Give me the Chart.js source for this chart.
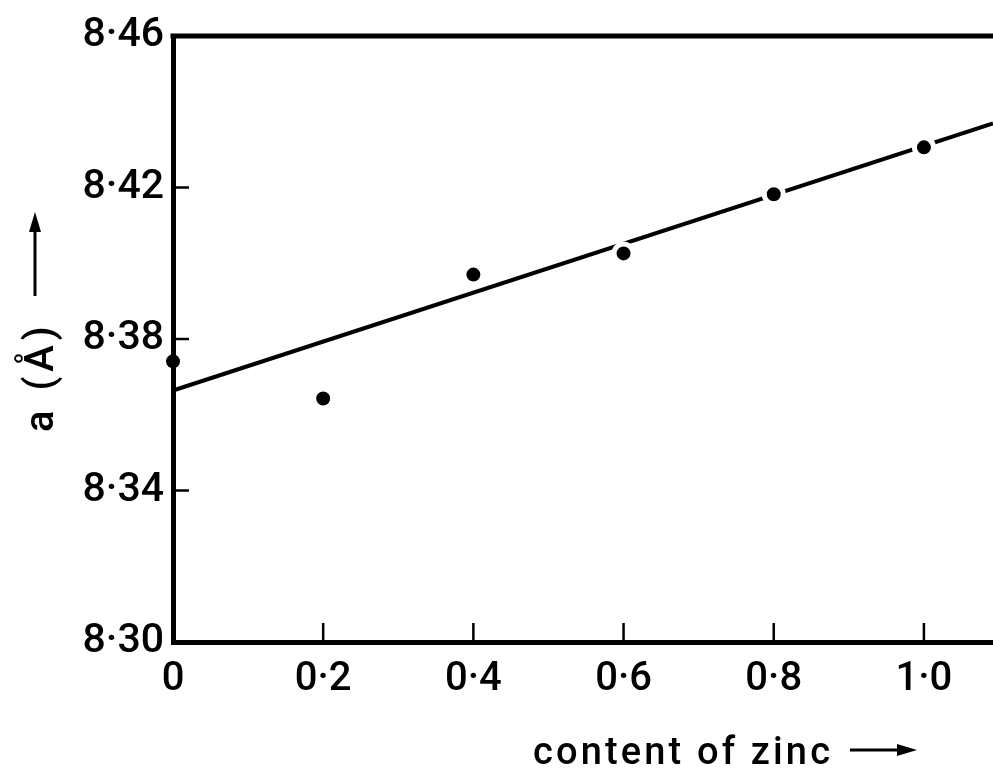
<!DOCTYPE html>
<html>
<head>
<meta charset="utf-8">
<script src="https://cdn.jsdelivr.net/npm/chart.js@4/dist/chart.umd.min.js"></script>
<style>
  html, body { margin: 0; padding: 0; background: #fff; }
  #wrap { width: 993px; height: 774px; }
</style>
</head>
<body>
<div id="wrap"><canvas id="zincChart" width="993" height="774"></canvas></div>
<script>
// measured points: lattice parameter a (Å) vs content of zinc
const zincContent = [0, 0.2, 0.4, 0.6, 0.8, 1.0];
const latticeParam = [8.3741, 8.3643, 8.3970, 8.4026, 8.4182, 8.4306];

// straight fit line (two ends)
const fitX = [0, 1.092];
const fitY = [8.3664, 8.4369];

// axis ticks
const xTicks = [0, 0.2, 0.4, 0.6, 0.8, 1.0];
const yTicks = [8.30, 8.34, 8.38, 8.42, 8.46];

const FONT = 'Roboto, "DejaVu Sans", sans-serif';

function fmtTick(v, digits) {
    if (v === 0) return '0';
    return v.toFixed(digits).replace('.', '·');
}

function drawArrow(ctx, x0, y0, x1, y1) {
    const ang = Math.atan2(y1 - y0, x1 - x0);
    const headLen = 20, headW = 6;
    ctx.beginPath();
    ctx.moveTo(x0, y0);
    ctx.lineTo(x1 - Math.cos(ang) * headLen * 0.8, y1 - Math.sin(ang) * headLen * 0.8);
    ctx.lineWidth = 3;
    ctx.stroke();
    ctx.beginPath();
    ctx.moveTo(x1, y1);
    ctx.lineTo(x1 - Math.cos(ang) * headLen - Math.sin(ang) * headW, y1 - Math.sin(ang) * headLen + Math.cos(ang) * headW);
    ctx.lineTo(x1 - Math.cos(ang) * headLen + Math.sin(ang) * headW, y1 - Math.sin(ang) * headLen - Math.cos(ang) * headW);
    ctx.closePath();
    ctx.fill();
}

// frame top line, inward tick marks and the two axis titles
const framePlugin = {
    id: 'framePlugin',
    afterDraw(chart) {
        const ctx = chart.ctx;
        const area = chart.chartArea;
        const xs = chart.scales.x, ys = chart.scales.y;
        ctx.save();
        ctx.strokeStyle = '#000';
        ctx.fillStyle = '#000';

        // top border
        ctx.lineWidth = 5;
        ctx.beginPath();
        ctx.moveTo(area.left - 2.5, area.top);
        ctx.lineTo(area.right, area.top);
        ctx.stroke();

        // y tick marks (pointing right)
        ctx.lineWidth = 2.5;
        yTicks.slice(1, -1).forEach(v => {
            const py = ys.getPixelForValue(v);
            ctx.beginPath();
            ctx.moveTo(area.left, py);
            ctx.lineTo(area.left + 16, py);
            ctx.stroke();
        });
        // x tick marks (pointing up)
        xTicks.slice(1).forEach(v => {
            const px = xs.getPixelForValue(v);
            ctx.beginPath();
            ctx.moveTo(px, area.bottom);
            ctx.lineTo(px, area.bottom - 19);
            ctx.stroke();
        });

        // x title
        ctx.font = '500 38px ' + FONT;
        ctx.textAlign = 'left';
        ctx.textBaseline = 'alphabetic';
        const xTitle = 'content of zinc';
        ctx.letterSpacing = '0px';
        const w0 = ctx.measureText(xTitle).width;
        ctx.letterSpacing = ((297 - w0) / (xTitle.length - 1)).toFixed(2) + 'px';
        ctx.fillText(xTitle, 533, 764);
        ctx.letterSpacing = '0px';
        drawArrow(ctx, 850, 750, 917, 750);

        // y title (rotated)
        ctx.save();
        ctx.translate(53, 432);
        ctx.rotate(-Math.PI / 2);
        ctx.font = '500 40px ' + FONT;
        ctx.letterSpacing = '5px';
        ctx.fillText('a (Å)', 0, 0);
        ctx.letterSpacing = '0px';
        drawArrow(ctx, 432 - 296, -18, 432 - 212, -18);
        ctx.restore();

        ctx.restore();
    }
};

const zincCanvas = document.getElementById('zincChart').getContext('2d');

new Chart(zincCanvas, {
    type: 'scatter',
    data: {
        datasets: [
            {
                label: 'measured',
                data: zincContent.map((x, i) => ({ x: x, y: latticeParam[i] })),
                backgroundColor: '#000',
                borderColor: '#fff',
                pointRadius: ctx => ctx.raw && ctx.raw.x === 0 ? 7 : 9.5,
                pointBorderWidth: ctx => ctx.raw && ctx.raw.x === 0 ? 0 : 5,
                pointHoverRadius: 9.5,
                clip: false
            },
            {
                label: 'fit',
                type: 'line',
                data: fitX.map((x, i) => ({ x: x, y: fitY[i] })),
                borderColor: '#000',
                borderWidth: 4,
                pointRadius: 0,
                fill: false,
                clip: false
            }
        ]
    },
    options: {
        responsive: false,
        animation: false,
        events: [],
        layout: {
            autoPadding: false,
            padding: { top: 36, right: 0, left: 0, bottom: 0 }
        },
        plugins: {
            legend: { display: false },
            tooltip: { enabled: false },
            title: { display: false }
        },
        scales: {
            x: {
                type: 'linear',
                min: fitX[0],
                max: fitX[1],
                afterBuildTicks: scale => { scale.ticks = xTicks.map(v => ({ value: v })); },
                afterFit: scale => {
                    scale.height = 132;
                    scale.paddingLeft = 0;
                    scale.paddingRight = 0;
                },
                grid: { display: false, drawTicks: false },
                border: { display: true, color: '#000', width: 5 },
                ticks: {
                    color: '#000',
                    padding: 14,
                    maxRotation: 0,
                    font: { family: FONT, size: 40, weight: '500' },
                    callback: v => fmtTick(v, 1)
                }
            },
            y: {
                type: 'linear',
                min: yTicks[0],
                max: yTicks[yTicks.length - 1],
                afterBuildTicks: scale => { scale.ticks = yTicks.map(v => ({ value: v })); },
                afterFit: scale => { scale.width = 173; },
                grid: { display: false, drawTicks: false },
                border: { display: true, color: '#000', width: 5 },
                ticks: {
                    color: '#000',
                    padding: 9,
                    font: { family: FONT, size: 41, weight: '500' },
                    callback: v => fmtTick(v, 2)
                }
            }
        }
    },
    plugins: [framePlugin]
});
</script>
</body>
</html>
